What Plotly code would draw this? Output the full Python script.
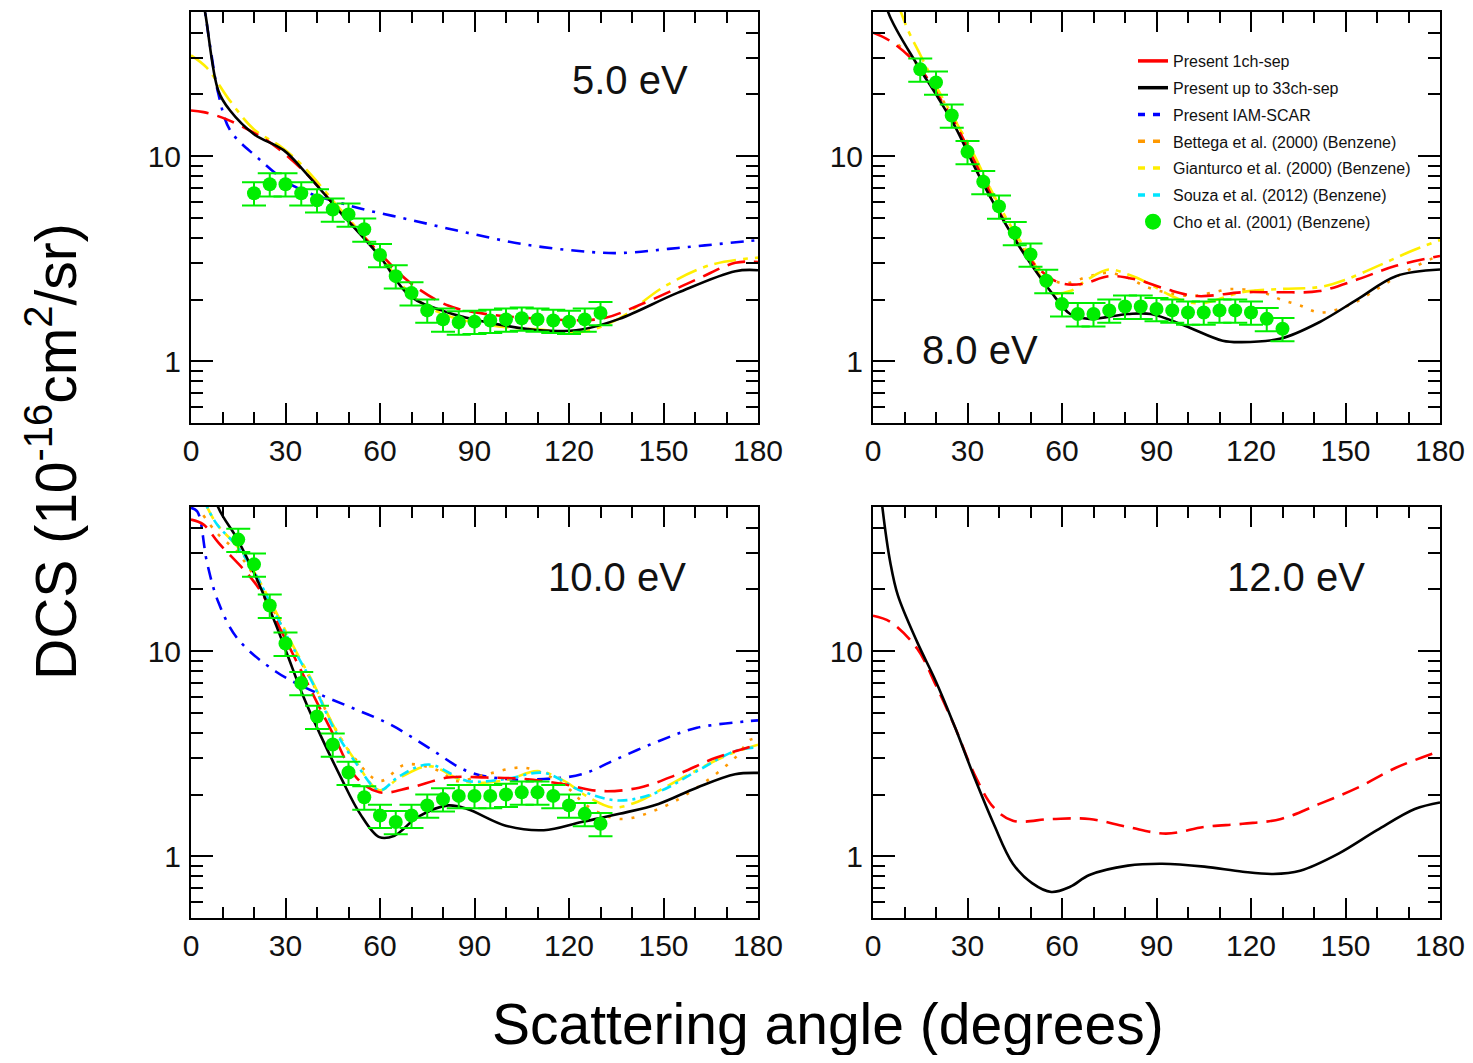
import plotly.graph_objects as go

# ---------------- DATA ----------------
# 5.0 eV
ang5_1ch = [0, 4, 11, 20, 27, 36.7, 47.6, 59.8, 69.5, 81.6, 93.8, 112, 130, 142, 160.6, 172.8, 180]
val5_1ch = [16.7, 16.4, 15.2, 13.0, 11.1, 8.2, 5.3, 3.38, 2.42, 1.87, 1.70, 1.61, 1.61, 1.87, 2.51, 3.02, 3.05]
ang5_33ch = [0, 2, 4.5, 8.7, 12.4, 20, 29.4, 36.7, 47.6, 59.8, 69.5, 81.6, 99.9, 112, 124, 136, 154.6, 172.8, 180]
val5_33ch = [150, 80, 50, 20.8, 16.7, 12.8, 10.7, 8.2, 5.28, 3.26, 2.08, 1.73, 1.49, 1.41, 1.43, 1.61, 2.16, 2.75, 2.78]
ang5_iam = [2, 4.5, 6.3, 8.7, 12.4, 20.9, 33, 51.3, 69.5, 87.7, 106, 124, 136, 154.6, 176.4, 180]
val5_iam = [90, 50, 32.6, 20.1, 13.4, 9.9, 7.1, 5.69, 4.9, 4.23, 3.71, 3.44, 3.37, 3.57, 3.85, 3.9]
ang5_gian = [0, 5, 12.4, 20, 29, 36, 47, 60, 70, 80, 95, 110, 124, 136, 150, 165, 180]
val5_gian = [31, 27, 18.6, 13.5, 11, 8.8, 5.6, 3.3, 2.1, 1.7, 1.5, 1.43, 1.39, 1.62, 2.3, 2.95, 3.2]
ang5_cho = [20, 25, 30, 35, 40, 45, 50, 55, 60, 65, 70, 75, 80, 85, 90, 95, 100, 105, 110, 115, 120, 125, 130]
val5_cho = [6.6, 7.3, 7.3, 6.6, 6.1, 5.5, 5.2, 4.4, 3.3, 2.6, 2.15, 1.77, 1.6, 1.55, 1.56, 1.58, 1.6, 1.62, 1.6, 1.58, 1.56, 1.6, 1.72]

# 8.0 eV
ang8_1ch = [0, 5.5, 14, 20, 26, 32, 44, 51.7, 59, 66.3, 74.8, 83.3, 93, 102.8, 117.4, 129.5, 141.7, 153.9, 166, 180]
val8_1ch = [40, 36.4, 28, 20.5, 14.5, 9.6, 4.2, 2.92, 2.42, 2.38, 2.6, 2.51, 2.25, 2.08, 2.17, 2.17, 2.2, 2.51, 2.92, 3.26]
ang8_33ch = [0, 3, 4.9, 14, 20, 26.1, 32.2, 38.3, 44.4, 50.5, 56.6, 62.6, 68.7, 80.9, 88.2, 99, 111, 117, 129.5, 141.7, 153.9, 166, 180]
val8_33ch = [120, 70, 50, 28, 20, 13.9, 8.9, 5.9, 4.07, 2.92, 2.17, 1.70, 1.61, 1.70, 1.70, 1.49, 1.26, 1.24, 1.29, 1.55, 2.01, 2.6, 2.8]
ang8_gian = [8, 11, 15.2, 20, 26, 32, 38, 44, 50.5, 56.6, 62.6, 68, 74.8, 81, 87, 93, 99, 105, 117, 129.5, 141.7, 150, 160, 170, 180]
val8_gian = [55, 41.5, 30.8, 22, 15, 10.2, 6.6, 4.5, 3.14, 2.17, 2.2, 2.5, 2.8, 2.65, 2.42, 2.15, 1.96, 1.92, 2.17, 2.25, 2.3, 2.5, 2.9, 3.4, 3.9]
ang8_bett = [8, 14, 20, 26, 32, 44, 52, 60, 68.7, 74.8, 81, 87, 94, 101.6, 107, 113.8, 123.4, 129.5, 135.6, 141.7, 151, 160, 168.4, 178, 180]
val8_bett = [35, 28, 21, 15, 10, 4.4, 2.9, 2.4, 2.6, 2.7, 2.55, 2.3, 2.15, 2.08, 2.15, 2.25, 2.17, 2.0, 1.87, 1.73, 1.87, 2.25, 2.7, 3.19, 3.25]
ang8_cho = [15, 20, 25, 30, 35, 40, 45, 50, 55, 60, 65, 70, 75, 80, 85, 90, 95, 100, 105, 110, 115, 120, 125, 130]
val8_cho = [26.5, 22.9, 15.8, 10.5, 7.5, 5.69, 4.23, 3.32, 2.47, 1.9, 1.70, 1.70, 1.77, 1.85, 1.85, 1.80, 1.77, 1.73, 1.73, 1.77, 1.77, 1.73, 1.61, 1.44]

# 10.0 eV
ang10_1ch = [0, 3.9, 8.7, 20.9, 29.4, 36.7, 45.2, 52.5, 59.8, 69.5, 81.6, 93.8, 106, 118, 130, 142.3, 154.5, 166.6, 180]
val10_1ch = [43.8, 41.5, 33.8, 20.9, 11.9, 7.1, 3.92, 2.42, 2.05, 2.16, 2.42, 2.42, 2.38, 2.25, 2.08, 2.16, 2.51, 3.02, 3.51]
ang10_33ch = [0, 5, 8.7, 14.8, 20.9, 27, 30.6, 35.5, 41.5, 47.6, 53.7, 59.8, 64.6, 71.9, 81.6, 87.7, 99.9, 112, 124, 136, 148.4, 160.6, 172.7, 180]
val10_33ch = [150, 80, 50, 35, 22.5, 13.4, 9.6, 6.1, 3.78, 2.42, 1.61, 1.24, 1.26, 1.55, 1.77, 1.70, 1.41, 1.34, 1.47, 1.61, 1.80, 2.16, 2.51, 2.55]
ang10_iam = [0, 2, 5.1, 8.7, 14.8, 27, 39, 51.3, 63.4, 75.5, 87.7, 99.9, 112, 124, 136, 148.4, 160.6, 176.4, 180]
val10_iam = [50, 48, 27, 17.3, 11.5, 7.94, 6.35, 5.28, 4.38, 3.38, 2.6, 2.38, 2.38, 2.51, 3.02, 3.64, 4.23, 4.55, 4.6]
ang10_bett = [3.9, 8, 15, 21, 27, 33, 39, 45, 52, 60, 68, 79, 84, 93.8, 106, 118, 126.5, 136.3, 148.4, 160.6, 172.7, 177.6, 180]
val10_bett = [46, 38, 30, 22, 15, 10, 6.8, 4.4, 3.0, 2.33, 2.8, 2.6, 2.33, 2.51, 2.7, 2.25, 1.73, 1.52, 1.7, 2.16, 3.02, 3.7, 3.75]
ang10_gian = [4, 8, 15, 21, 27, 33, 39, 45, 52, 59.8, 66, 75.5, 87.7, 99.9, 110, 118, 126, 133.8, 142, 150, 160, 170, 180]
val10_gian = [55, 42, 32, 23, 15.5, 10.2, 6.9, 4.4, 2.95, 2.1, 2.4, 2.75, 2.3, 2.35, 2.6, 2.35, 1.95, 1.73, 1.85, 2.15, 2.6, 3.1, 3.5]
ang10_souza = [4, 8, 15, 21, 27, 33, 39, 45, 52, 59.8, 66, 75.5, 87.7, 99.9, 112, 124, 136, 148, 160.6, 172.7, 180]
val10_souza = [55, 42, 32, 23, 15, 10, 6.8, 4.3, 2.9, 2.1, 2.45, 2.8, 2.33, 2.38, 2.55, 2.08, 1.87, 2.05, 2.6, 3.26, 3.4]
ang10_cho = [15, 20, 25, 30, 35, 40, 45, 50, 55, 60, 65, 70, 75, 80, 85, 90, 95, 100, 105, 110, 115, 120, 125, 130]
val10_cho = [35, 26.5, 16.7, 10.9, 7.0, 4.8, 3.51, 2.56, 1.94, 1.58, 1.47, 1.58, 1.77, 1.9, 1.97, 1.97, 1.97, 2.0, 2.05, 2.05, 1.97, 1.77, 1.61, 1.44]

# 12.0 eV
ang12_1ch = [0, 5.5, 14, 20, 26.1, 32.2, 38.3, 44.4, 56.6, 68.7, 80.9, 93, 105.2, 117.4, 129.5, 141.7, 153.9, 166, 180]
val12_1ch = [14.9, 13.9, 10.3, 6.8, 4.23, 2.51, 1.73, 1.49, 1.52, 1.52, 1.39, 1.29, 1.39, 1.44, 1.52, 1.80, 2.16, 2.70, 3.26]
ang12_33ch = [0, 3, 5.5, 7.9, 14, 20, 26.1, 32.2, 38.3, 44.4, 50.5, 56.6, 62.6, 68.7, 80.9, 91.8, 105.2, 117.4, 127, 135.6, 147.8, 160, 172, 180]
val12_33ch = [150, 50, 27, 18.7, 11.1, 7.1, 4.23, 2.42, 1.44, 0.92, 0.74, 0.67, 0.71, 0.81, 0.90, 0.92, 0.89, 0.84, 0.82, 0.85, 1.03, 1.34, 1.70, 1.83]

cho_err_frac = 0.13

energy_labels = ["5.0 eV", "8.0 eV", "10.0 eV", "12.0 eV"]
x_tickvals = [0, 30, 60, 90, 120, 150, 180]
y_tickvals = [1, 10]
y_ticktext = ["1", "10"]
y_minor = [0.5, 0.6, 0.7, 0.8, 0.9, 2, 3, 4, 5, 6, 7, 8, 9, 20, 30, 40, 50]

legend_names = ["Present 1ch-sep", "Present up to 33ch-sep", "Present IAM-SCAR",
                "Bettega et al. (2000) (Benzene)", "Gianturco et al. (2000) (Benzene)",
                "Souza et al. (2012) (Benzene)", "Cho et al. (2001) (Benzene)"]

# ---------------- STYLES ----------------
FONT = "Liberation Sans, Arial, Helvetica, sans-serif"
RED = "#ff0000"
BLACK = "#000000"
BLUE = "#0000ff"
ORANGE = "#ff9900"
YELLOW = "#ffee00"
CYAN = "#00e5ff"
GREEN = "#00ee00"
LW = 2.6

styles = {
    "1ch": dict(color=RED, width=LW, dash="18px,9px"),
    "33ch": dict(color=BLACK, width=LW, dash="solid"),
    "iam": dict(color=BLUE, width=LW, dash="13px,8px,3px,8px"),
    "bett": dict(color=ORANGE, width=2.6, dash="3px,9px"),
    "gian": dict(color=YELLOW, width=LW, dash="22px,7px,5px,7px"),
    "souza": dict(color=CYAN, width=LW, dash="10px,5px,3px,5px"),
}

fig = go.Figure()


def add_line(ax, xs, ys, key):
    fig.add_trace(go.Scatter(x=xs, y=ys, mode="lines", line=dict(shape="spline", smoothing=1.0, **styles[key]),
                             xaxis="x" + ax, yaxis="y" + ax, showlegend=False, hoverinfo="skip"))


def add_cho(ax, xs, ys):
    fig.add_trace(go.Scatter(x=xs, y=ys, mode="markers",
                             marker=dict(color=GREEN, size=14, line=dict(width=0)),
                             error_y=dict(type="percent", value=cho_err_frac * 100, color=GREEN, thickness=2, width=12),
                             xaxis="x" + ax, yaxis="y" + ax, showlegend=False, hoverinfo="skip"))


# panel 1: 5 eV
add_line("", ang5_iam, val5_iam, "iam")
add_line("", ang5_gian, val5_gian, "gian")
add_line("", ang5_1ch, val5_1ch, "1ch")
add_line("", ang5_33ch, val5_33ch, "33ch")
add_cho("", ang5_cho, val5_cho)

# panel 2: 8 eV
add_line("2", ang8_bett, val8_bett, "bett")
add_line("2", ang8_gian, val8_gian, "gian")
add_line("2", ang8_1ch, val8_1ch, "1ch")
add_line("2", ang8_33ch, val8_33ch, "33ch")
add_cho("2", ang8_cho, val8_cho)

# panel 3: 10 eV
add_line("3", ang10_iam, val10_iam, "iam")
add_line("3", ang10_bett, val10_bett, "bett")
add_line("3", ang10_gian, val10_gian, "gian")
add_line("3", ang10_souza, val10_souza, "souza")
add_line("3", ang10_1ch, val10_1ch, "1ch")
add_line("3", ang10_33ch, val10_33ch, "33ch")
add_cho("3", ang10_cho, val10_cho)

# panel 4: 12 eV
add_line("4", ang12_1ch, val12_1ch, "1ch")
add_line("4", ang12_33ch, val12_33ch, "33ch")

# legend entries (drawn in 8 eV panel)
leg_styles = [
    dict(color=RED, width=3.5, dash="solid"),
    dict(color=BLACK, width=3.5, dash="solid"),
    dict(color=BLUE, width=3.5, dash="7px,8px"),
    dict(color=ORANGE, width=3.5, dash="7px,8px"),
    dict(color=YELLOW, width=3.5, dash="7px,8px"),
    dict(color=CYAN, width=3.5, dash="7px,8px"),
]
for i, (name, st) in enumerate(zip(legend_names[:6], leg_styles)):
    fig.add_trace(go.Scatter(x=[None], y=[None], mode="lines", line=st, name=name, legendgroup="g%d" % i,
                             xaxis="x2", yaxis="y2", showlegend=True))
fig.add_trace(go.Scatter(x=[None], y=[None], mode="markers", marker=dict(color=GREEN, size=16),
                         name=legend_names[6], legendgroup="g6", xaxis="x2", yaxis="y2", showlegend=True))

# ---------------- LAYOUT ----------------
# page body has an 8px margin; figure sized so page fits the window exactly
W, H = 1457, 1047
cols = [(183, 750), (865, 1432)]
rows = [(4, 415), (499, 910)]


def xdom(c):
    return [cols[c][0] / W, cols[c][1] / W]


def ydom(r):
    return [(H - rows[r][1]) / H, (H - rows[r][0]) / H]


TICKFONT = dict(size=30, color="#111", family=FONT)
axis_common_x = dict(range=[0, 180], tickvals=x_tickvals, ticks="inside", ticklen=20, tickwidth=1.5,
                     tickcolor="black", showline=True, linecolor="black", linewidth=2, mirror="allticks",
                     showgrid=False, zeroline=False, tickfont=TICKFONT, automargin=False,
                     ticklabeloverflow="allow",
                     minor=dict(dtick=10, tick0=0, ticks="inside", ticklen=11, tickwidth=1.5, tickcolor="black",
                                showgrid=False),
                     ticklabelstandoff=0)
axis_common_y = dict(type="log", range=[-0.301, 1.703], tickvals=y_tickvals, ticktext=y_ticktext,
                     ticks="inside", ticklen=22, tickwidth=1.5, tickcolor="black", showline=True,
                     linecolor="black", linewidth=2, mirror="allticks", showgrid=False, zeroline=False,
                     tickfont=TICKFONT, automargin=False, ticklabeloverflow="allow",
                     minor=dict(tickvals=y_minor, ticks="inside", ticklen=12, tickwidth=1.5, tickcolor="black",
                                showgrid=False),
                     ticklabelstandoff=2)

layout = dict(
    width=W, height=H, autosize=False, margin=dict(l=0, r=0, t=0, b=0, pad=0, autoexpand=False),
    paper_bgcolor="white", plot_bgcolor="white",
    font=dict(family=FONT, color="#111"),
    showlegend=True,
    legend=dict(x=1125 / W, y=(H - 36) / H, xanchor="left", yanchor="top", bgcolor="rgba(0,0,0,0)",
                font=dict(size=16, family=FONT, color="#111"), itemwidth=30, tracegroupgap=3),
)
panels = [("", 0, 0), ("2", 1, 0), ("3", 0, 1), ("4", 1, 1)]
for ax, c, r in panels:
    xa = dict(axis_common_x)
    xa["domain"] = xdom(c)
    xa["anchor"] = "y" + ax
    ya = dict(axis_common_y)
    ya["domain"] = ydom(r)
    ya["anchor"] = "x" + ax
    layout["xaxis" + ax] = xa
    layout["yaxis" + ax] = ya

fig.update_layout(**layout)

label_pos = [(0.774, 0.835), (0.189, 0.178), (0.751, 0.83), (0.746, 0.83)]
for (ax, c, r), lab, (lx, ly) in zip(panels, energy_labels, label_pos):
    fig.add_annotation(text=lab, x=lx, y=ly, xref="x" + ax + " domain", yref="y" + ax + " domain",
                       showarrow=False, font=dict(size=40, family=FONT, color="#111"),
                       xanchor="center", yanchor="middle")

fig.add_annotation(text="Scattering angle (degrees)", x=820 / W, y=(H - 1016) / H, xref="paper", yref="paper",
                   showarrow=False, font=dict(size=57, family=FONT, color="#000"), xanchor="center",
                   yanchor="middle")
fig.add_annotation(text="DCS (10<sup>-16</sup>cm<sup>2</sup>/sr)", x=44 / W, y=(H - 444) / H, xref="paper",
                   yref="paper", textangle=-90, showarrow=False,
                   font=dict(size=57, family=FONT, color="#000"), xanchor="center", yanchor="middle")

fig.write_html("out.html")
